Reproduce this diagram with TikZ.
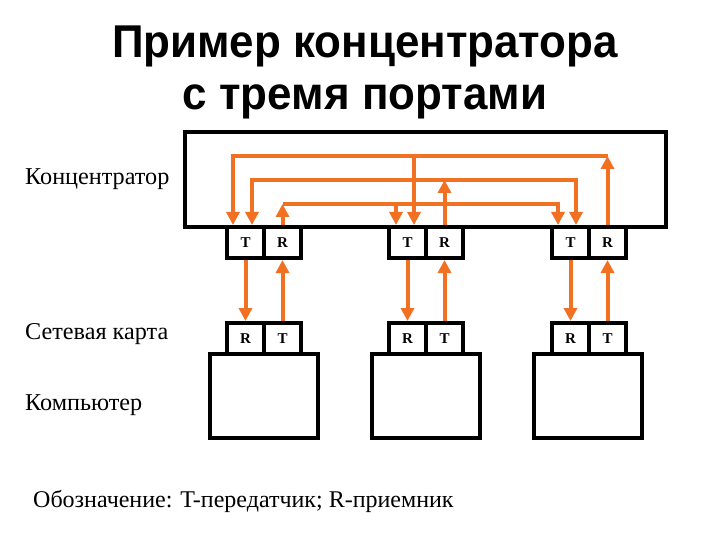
\documentclass[tikz,border=0pt]{standalone}
\usepackage{fontspec}
\setmainfont{Liberation Serif}
\newfontfamily\titlefont{Liberation Sans}
\usetikzlibrary{arrows.meta}
\definecolor{sigcol}{RGB}{241,112,34}
\begin{document}
\begin{tikzpicture}[x=1pt,y=-1pt,
  box/.style={draw,line width=4pt,inner sep=0pt},
  cell/.style={box,minimum width=37pt,minimum height=31pt,font=\bfseries\fontsize{15}{15}\selectfont},
  sigarrow/.style={draw=sigcol,line width=4pt,-{Triangle[width=13pt,length=13pt]}},
  lbl/.style={anchor=base west,inner sep=0pt,font=\fontsize{24.2}{24}\selectfont},
  ttl/.style={anchor=base,inner sep=0pt,xscale=0.955,font=\titlefont\bfseries\fontsize{46}{46}\selectfont}]
\useasboundingbox (0,0) rectangle (720,540);

% title
\node[ttl] (t1) at (365,58) {Пример концентратора};
\node[ttl] (t2) at (365,110) {с тремя портами};

% side labels
\node[lbl] (lhub) at (25,185) {Концентратор};
\node[lbl] (lnic) at (25,339) {Сетевая карта};
\node[lbl] (lpc) at (25,410) {Компьютер};
\node[lbl,font=\fontsize{24}{24}\selectfont] (legend) at (33,507) {Обозначение: T-передатчик; R-приемник};

% hub
\node[box,minimum width=481pt,minimum height=95pt] (hub) at (425.5,179.5) {};

% hub ports
\node[cell] (h1T) at (245.5,242.5) {T};
\node[cell] (h1R) at (282.5,242.5) {R};
\node[cell] (h2T) at (407.5,242.5) {T};
\node[cell] (h2R) at (444.5,242.5) {R};
\node[cell] (h3T) at (570.5,242.5) {T};
\node[cell] (h3R) at (607.5,242.5) {R};

% network cards
\node[cell] (n1R) at (245.5,338.5) {R};
\node[cell] (n1T) at (282.5,338.5) {T};
\node[cell] (n2R) at (407.5,338.5) {R};
\node[cell] (n2T) at (444.5,338.5) {T};
\node[cell] (n3R) at (570.5,338.5) {R};
\node[cell] (n3T) at (607.5,338.5) {T};

% computers
\node[box,minimum width=108pt,minimum height=84pt] (pc1) at (264,396) {};
\node[box,minimum width=108pt,minimum height=84pt] (pc2) at (426,396) {};
\node[box,minimum width=108pt,minimum height=84pt] (pc3) at (588,396) {};

% hub <-> network card
\draw[sigarrow] (h1T.south) -- (n1R.north);
\draw[sigarrow] (n1T.north) -- (h1R.south);
\draw[sigarrow] (h2T.south) -- (n2R.north);
\draw[sigarrow] (n2T.north) -- (h2R.south);
\draw[sigarrow] (h3T.south) -- (n3R.north);
\draw[sigarrow] (n3T.north) -- (h3R.south);

% internal hub wiring
\coordinate (r1top) at (282.5,204);
\coordinate (r2top) at (444.5,180);
\coordinate (r3top) at (607.5,156);
\coordinate (b1) at (414,156);
\coordinate (b3) at (396,204);
\coordinate (t1a) at (233,225);
\coordinate (t1b) at (252,225);
\coordinate (t2a) at (396,225);
\coordinate (t2b) at (414,225);
\coordinate (t3a) at (558,225);
\coordinate (t3b) at (576,225);

% line 1: R3 -> T1, T2
\draw[sigarrow] (h3R.north) -- (r3top);
\draw[sigarrow] (r3top) -| (t1a);
\draw[sigarrow] (b1) -- (t2b);
% line 2: R2 -> T1, T3
\draw[sigarrow] (h2R.north) -- (r2top);
\draw[sigarrow] (r2top) -| (t1b);
\draw[sigarrow] (r2top) -| (t3b);
% line 3: R1 -> T2, T3
\draw[sigarrow] (h1R.north) -- (r1top);
\draw[sigarrow] (r1top) -| (t3a);
\draw[sigarrow] (b3) -- (t2a);
\end{tikzpicture}
\end{document}
